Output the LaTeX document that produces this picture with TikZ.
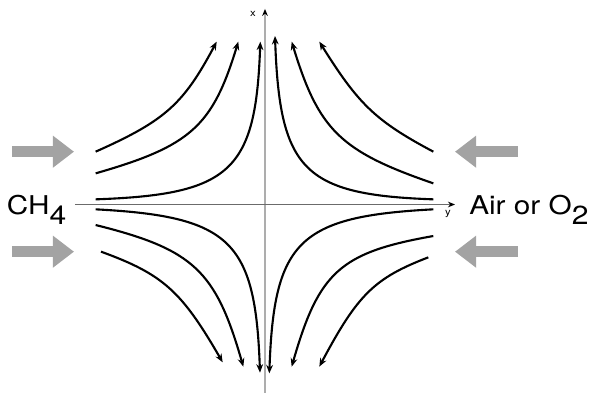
\documentclass[tikz,border=0pt]{standalone}
\usepackage{fontspec}
\setmainfont{TeX Gyre Heros}
\newfontfamily\widefont{TeX Gyre Heros}[FakeStretch=1.15]
\usetikzlibrary{arrows.meta}

\definecolor{feedgray}{gray}{0.64}
\definecolor{vaxisgray}{gray}{0.68}
\definecolor{haxisgray}{gray}{0.42}

\newcommand{\lowsub}[1]{\raisebox{-7.6pt}{\fontsize{18.6}{19}\selectfont #1}}

\tikzset{
  flow/.style={line width=1.5pt,-{Stealth[length=6pt,width=4.8pt]}},
  feed/.style={line width=0.28cm,color=feedgray,-{Triangle[length=0.53cm,width=0.77cm]}},
  species/.style={font=\widefont\fontsize{18.4}{20}\selectfont,inner sep=0pt,anchor=base west},
  axislabel/.style={font=\widefont\fontsize{7}{8}\selectfont,inner sep=0pt},
}

\begin{document}
\begin{tikzpicture}[x=1cm,y=1cm]
\useasboundingbox (-6.625,-4.7875) rectangle (8.125,5.1125);

% axes
\draw[vaxisgray,line width=1.4pt,-{Stealth[length=5pt,width=4pt,color=black]}] (0,-4.71) -- (0,4.89);
\draw[haxisgray,line width=0.7pt,-{Stealth[length=5pt,width=4pt,color=black]}] (-4.75,0) -- (4.75,0);
\node[axislabel] (xlab) at (-0.3,4.76) {x};
\node[axislabel] (ylab) at (4.575,-0.24) {y};

% inflow
\draw[feed] (-6.33,1.32) -- (-4.775,1.32);
\draw[feed] (-6.33,-1.18) -- (-4.775,-1.18);
\draw[feed] (6.33,1.32) -- (4.75,1.32);
\draw[feed] (6.33,-1.18) -- (4.75,-1.18);

\node[species] (fuel) at (-6.46,-0.245) {CH\lowsub{4}};
\node[species] (oxid) at (5.1,-0.245) {Air or O\lowsub{2}};

% streamlines, upper left
\draw[flow] (-4.233,1.321) .. controls +(24:1.90) and +(242:1.77) .. (-1.208,4.071);
\draw[flow] (-4.233,0.779) .. controls +(16:2.48) and +(253:2.21) .. (-0.667,4.071);
\draw[flow] (-4.233,0.129) .. controls +(2:3.39) and +(268:3.23) .. (-0.117,4.071);

% upper right
\draw[flow] (4.208,1.321) .. controls +(152:1.63) and +(-58:1.85) .. (1.358,4.071);
\draw[flow] (4.208,0.529) .. controls +(161:2.47) and +(-73:2.31) .. (0.667,4.071);
\draw[flow] (4.208,0.129) .. controls +(178:3.25) and +(-88:3.36) .. (0.25,4.213);

% lower left
\draw[flow] (-4.233,-0.121) .. controls +(-3:3.38) and +(92:3.30) .. (-0.125,-4.204);
\draw[flow] (-4.233,-0.513) .. controls +(-14:2.52) and +(106:2.50) .. (-0.542,-4.054);
\draw[flow] (-4.1,-1.179) .. controls +(-20:1.65) and +(120:2.06) .. (-1.058,-3.946);

% lower right
\draw[flow] (4.208,-0.121) .. controls +(183:3.37) and +(88:3.31) .. (0.108,-4.221);
\draw[flow] (4.208,-0.788) .. controls +(190:2.37) and +(74:2.46) .. (0.667,-4.054);
\draw[flow] (4.083,-1.321) .. controls +(201:1.45) and +(62:2.04) .. (1.358,-4.054);
\end{tikzpicture}
\end{document}
